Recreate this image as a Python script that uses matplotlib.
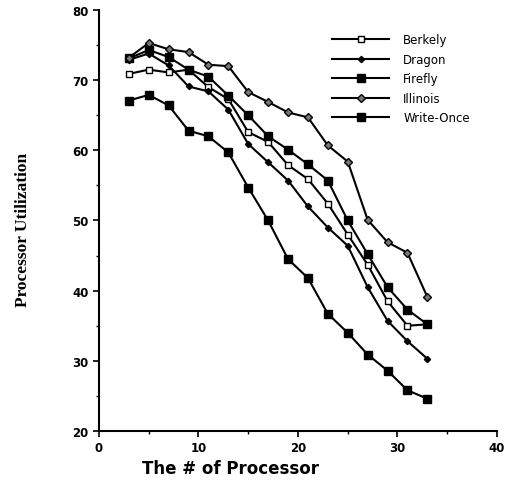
import matplotlib
matplotlib.use('Agg')
import matplotlib.pyplot as plt
from matplotlib.ticker import MultipleLocator

# Data
processors = [3, 5, 7, 9, 11, 13, 15, 17, 19, 21, 23, 25, 27, 29, 31, 33]
berkely = [70.9, 71.5, 71.1, 71.5, 69.0, 67.3, 62.6, 61.2, 57.9, 55.9, 52.4, 48.0, 43.7, 38.5, 35.0, 35.2]
dragon = [72.9, 73.8, 72.1, 69.1, 68.4, 65.8, 60.9, 58.3, 55.7, 52.0, 49.0, 46.4, 40.5, 35.7, 32.8, 30.3]
firefly = [73.1, 74.3, 73.3, 71.5, 70.5, 67.8, 65.0, 62.0, 60.1, 58.0, 55.7, 50.0, 45.2, 40.5, 37.3, 35.2]
illinois = [73.2, 75.3, 74.4, 74.0, 72.2, 72.0, 68.3, 66.9, 65.4, 64.7, 60.7, 58.4, 50.1, 46.9, 45.4, 39.1]
write_once = [67.1, 67.9, 66.4, 62.8, 62.0, 59.7, 54.7, 50.0, 44.5, 41.8, 36.7, 34.0, 30.9, 28.6, 25.8, 24.6]

series = [
    ('Berkely', berkely, dict(marker='s', markersize=4.2, markerfacecolor='white')),
    ('Dragon', dragon, dict(marker='D', markersize=3.2, markerfacecolor='black')),
    ('Firefly', firefly, dict(marker='s', markersize=5.2, markerfacecolor='black')),
    ('Illinois', illinois, dict(marker='D', markersize=3.6, markerfacecolor='#777777')),
    ('Write-Once', write_once, dict(marker='s', markersize=5.2, markerfacecolor='black')),
]

fig = plt.figure(figsize=(5.11, 4.85), dpi=100)
ax = fig.add_axes([0.1937, 0.1093, 0.7789, 0.8680])

for name, vals, style in series:
    ax.plot(processors, vals, color='black', linewidth=1.5,
            markeredgecolor='black', markeredgewidth=1.0, label=name, **style)

ax.set_xlim(0, 40)
ax.set_ylim(20, 80)
ax.xaxis.set_major_locator(MultipleLocator(10))
ax.xaxis.set_minor_locator(MultipleLocator(5))
ax.yaxis.set_major_locator(MultipleLocator(10))
ax.yaxis.set_minor_locator(MultipleLocator(5))
ax.spines['top'].set_visible(False)
ax.spines['right'].set_visible(False)
ax.spines['left'].set_linewidth(1.5)
ax.spines['bottom'].set_linewidth(1.5)
ax.tick_params(which='major', direction='out', length=4, width=1.2, labelsize=8.5)
ax.tick_params(which='minor', direction='out', length=2.5, width=1.0)
for lbl in ax.get_xticklabels() + ax.get_yticklabels():
    lbl.set_fontweight('bold')

ax.set_xlabel('The # of Processor', fontsize=12, fontweight='bold')
ax.xaxis.set_label_coords(0.33, -0.066)
ax.set_ylabel('Processor Utilization', fontsize=12.5, fontweight='bold',
              family='Liberation Serif')
ax.yaxis.set_label_coords(-0.17, 0.48)

ax.legend(loc='upper left', bbox_to_anchor=(0.56, 0.97), frameon=False,
          fontsize=8.5, handlelength=4.8, labelspacing=0.55, handletextpad=1.2)

fig.savefig('out.png', dpi=100)
